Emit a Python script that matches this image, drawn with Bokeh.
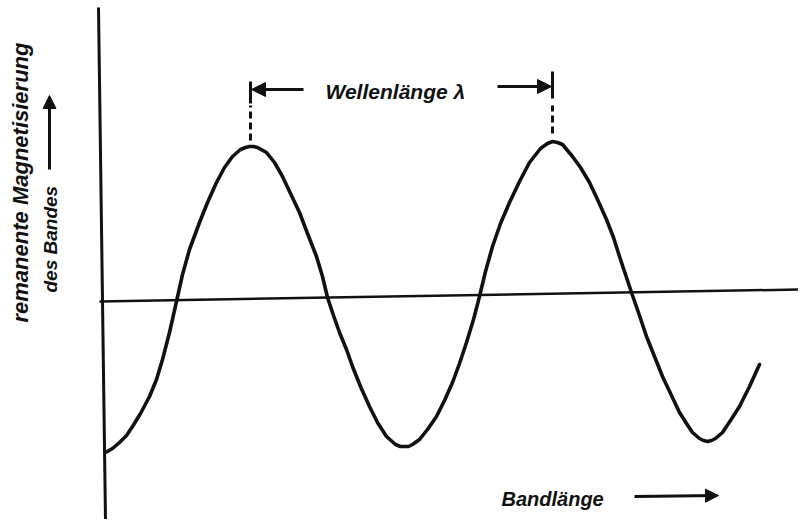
from bokeh.plotting import figure
from bokeh.models import Range1d, Arrow, NormalHead
from bokeh.core.properties import value
from bokeh.embed import file_html
from bokeh.resources import INLINE
import math

# ---- data (x = Bandlänge, y = Magnetisierung, units as drawn) ----
IMG_H = 521
curve_x = [106, 113, 120, 127, 133, 141, 150, 157, 163, 170, 177, 183, 190, 200, 208, 217, 225, 233, 241, 246, 250,
           254, 258, 267, 275, 283, 291, 300, 308, 317, 323, 328, 334, 340, 347, 353, 361, 370, 378, 387, 396, 401, 405,
           409, 413, 420, 428, 437, 445, 453, 460, 467, 474, 480, 486, 493, 501, 510, 520, 530, 541, 548, 553, 558, 563, 573,
           581, 590, 598, 607, 614, 620, 626, 632, 640, 647, 655, 663, 672, 680, 687, 693, 700, 704, 708, 712, 716, 723,
           731, 740, 750, 760]
curve_y_img = [453, 449, 443, 436, 427, 414, 397, 380, 360, 333, 302, 275, 250, 223, 203, 183, 168, 157, 150, 148, 147,
               147, 148, 153, 163, 177, 194, 213, 234, 257, 277, 298, 316, 333, 350, 367, 387, 407, 423, 437, 445, 447, 447,
               447, 445, 440, 430, 417, 401, 383, 364, 343, 320, 297, 272, 247, 224, 203, 182, 163, 149, 144, 142, 143, 145, 157,
               168, 183, 200, 220, 238, 257, 275, 293, 316, 337, 357, 377, 396, 413, 424, 433, 439, 441, 442, 441, 439, 433,
               421, 407, 387, 365]
curve_y = [IMG_H - v for v in curve_y_img]

# zero line (slightly tilted in the scan) and vertical axis
base_x = [100, 800]
base_y = [IMG_H - 302, IMG_H - 290]
axis_x = [99, 106]
axis_y = [IMG_H - 8, IMG_H - 521]

# wavelength marker: the two peaks
peak_x = [251, 553]

title_text = "Wellenlänge λ"
xlabel = "Bandlänge"
ylabel1 = "remanente Magnetisierung"
ylabel2 = "des Bandes"

FONT = value("Liberation Sans")

p = figure(width=798, height=519, x_range=Range1d(1, 799), y_range=Range1d(IMG_H - 520, IMG_H - 1),
           x_axis_type=None, y_axis_type=None, output_backend="svg", toolbar_location=None,
           min_border=0, min_border_left=0, min_border_right=0, min_border_top=0, min_border_bottom=0)
p.grid.visible = False
p.outline_line_color = None
p.background_fill_color = "white"
p.border_fill_color = "white"

INK = "#111111"

# axes
p.line(axis_x, axis_y, line_color=INK, line_width=3)
p.line(base_x, base_y, line_color=INK, line_width=2.5)

# wave
p.line(curve_x, curve_y, line_color=INK, line_width=3.6, line_join="round", line_cap="round")

# dashed lines above peaks
p.segment(x0=[peak_x[0], peak_x[1]], y0=[IMG_H - 141, IMG_H - 134], x1=[peak_x[0], peak_x[1]],
          y1=[IMG_H - 106, IMG_H - 106], line_color=INK, line_width=3, line_dash="7 4")
# end bars
p.segment(x0=[peak_x[0], peak_x[1]], y0=[IMG_H - 104, IMG_H - 99], x1=[peak_x[0], peak_x[1]],
          y1=[IMG_H - 82, IMG_H - 72], line_color=INK, line_width=3)

# dimension arrows
p.add_layout(Arrow(x_start=304, y_start=IMG_H - 90, x_end=peak_x[0] + 1, y_end=IMG_H - 90,
                   line_color=INK, line_width=3,
                   end=NormalHead(size=14, fill_color=INK, line_color=INK, line_width=1)))
p.add_layout(Arrow(x_start=498, y_start=IMG_H - 87, x_end=peak_x[1] - 1, y_end=IMG_H - 87,
                   line_color=INK, line_width=3,
                   end=NormalHead(size=14, fill_color=INK, line_color=INK, line_width=1)))

p.text(x=[326], y=[IMG_H - 92], text=[title_text], text_font=FONT, text_font_style="bold italic",
       text_font_size="21px", text_baseline="middle", text_align="left", text_color=INK)

# x label + arrow
p.text(x=[502], y=[IMG_H - 499], text=[xlabel], text_font=FONT, text_font_style="bold italic",
       text_font_size="20px", text_baseline="middle", text_align="left", text_color=INK)
p.add_layout(Arrow(x_start=635, y_start=IMG_H - 497, x_end=719, y_end=IMG_H - 496,
                   line_color=INK, line_width=3,
                   end=NormalHead(size=13, fill_color=INK, line_color=INK, line_width=1)))

# y labels + arrow
p.text(x=[21], y=[IMG_H - 323], text=[ylabel1], text_font=FONT, text_font_style="bold italic",
       text_font_size="22px", text_baseline="middle", text_align="left", angle=math.pi / 2, text_color=INK)
p.text(x=[51], y=[IMG_H - 293], text=[ylabel2], text_font=FONT, text_font_style="bold italic",
       text_font_size="19px", text_baseline="middle", text_align="left", angle=math.pi / 2, text_color=INK)
p.add_layout(Arrow(x_start=50, y_start=IMG_H - 170, x_end=50, y_end=IMG_H - 96,
                   line_color=INK, line_width=3,
                   end=NormalHead(size=13, fill_color=INK, line_color=INK, line_width=1)))

open("out.html", "w").write(file_html(p, INLINE))
